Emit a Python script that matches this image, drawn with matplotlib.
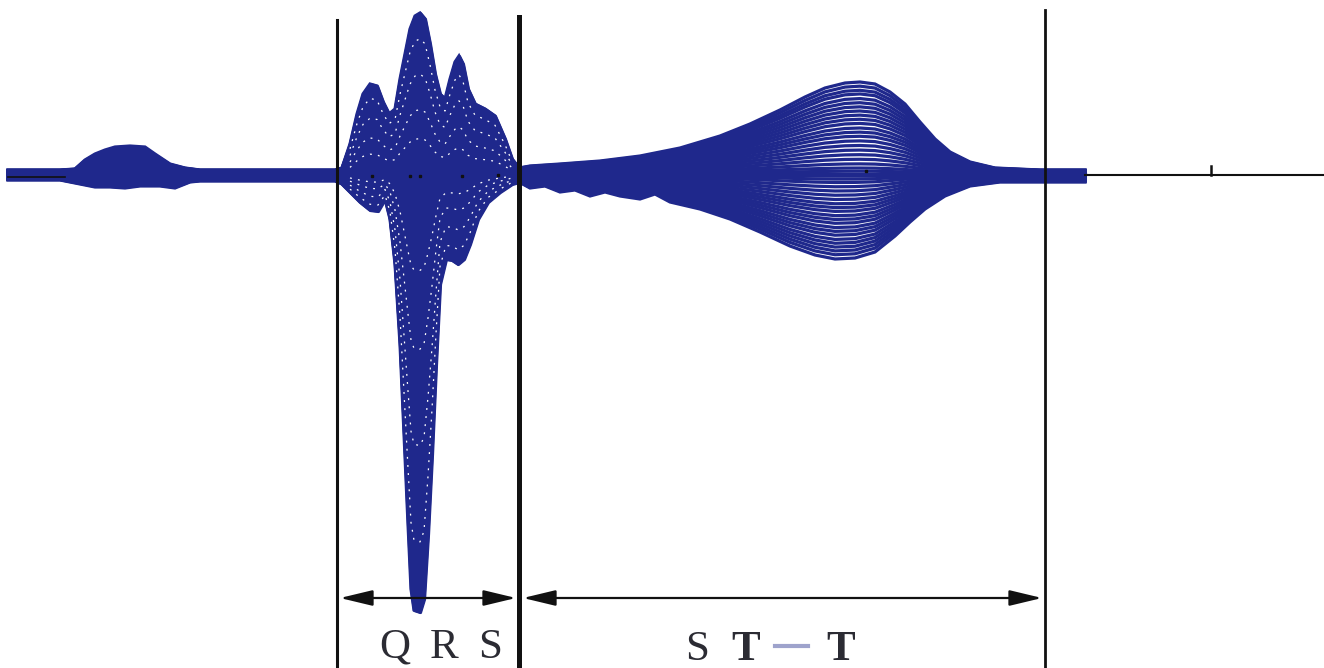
import matplotlib.pyplot as plt

# superimposed beats, time in samples, amplitude in display units (baseline = 0)
NAVY = '#1f288c'

# upward-deflecting beat template
up_t = [8, 60, 75, 85, 95, 105, 115, 130, 145, 155, 170, 185, 200, 335,
        342, 350, 357, 363, 370, 377, 383, 389, 395, 400, 405, 410, 415, 420,
        425, 430, 435, 440, 445, 450, 455, 459, 463, 468, 475, 485, 495, 505,
        512, 519, 530, 560, 600, 640, 680, 720, 750, 780, 805, 825, 845, 860,
        875, 890, 905, 920, 935, 950, 970, 995, 1040, 1085]
up_v = [4, 4, 5, 14, 20, 24, 27, 28, 27, 20, 10, 6, 4, 4,
        6, 30, 60, 80, 90, 88, 72, 60, 65, 95, 120, 145, 158, 161,
        155, 130, 100, 80, 75, 95, 112, 118, 110, 85, 70, 65, 58, 35,
        15, 6, 8, 10, 13, 18, 26, 38, 50, 64, 77, 86, 91, 92,
        90, 82, 70, 52, 35, 22, 12, 6, 4, 4]

# downward-deflecting beat template
dn_t = [8, 60, 80, 95, 110, 125, 140, 160, 175, 190, 200, 335,
        342, 350, 360, 370, 378, 385, 390, 395, 400, 404, 408, 411, 414, 420,
        424, 428, 432, 436, 440, 446, 452, 458, 464, 470, 478, 488, 500, 512,
        519, 530, 545, 560, 575, 590, 605, 620, 640, 655, 670, 700, 730, 760,
        790, 815, 835, 855, 875, 895, 910, 925, 945, 970, 1000, 1085]
dn_v = [-6, -6, -10, -13, -13, -14, -12, -12, -14, -8, -7, -7,
        -10, -18, -28, -36, -37, -25, -45, -90, -170, -260, -350, -415, -436, -438,
        -425, -360, -280, -190, -110, -85, -86, -90, -85, -70, -45, -28, -18, -10,
        -8, -14, -12, -18, -16, -22, -18, -22, -25, -20, -28, -35, -45, -58,
        -72, -81, -85, -84, -78, -62, -48, -35, -22, -12, -8, -8]

# relative beat amplitudes
up_gain = [1.0, 0.955, 0.91, 0.87, 0.82, 0.775, 0.73, 0.685, 0.64, 0.595, 0.55,
           0.5, 0.455, 0.41, 0.36, 0.31, 0.26, 0.21, 0.16, 0.11, 0.065, 0.03, 0.0]
dn_gain = [1.0, 0.95, 0.905, 0.86, 0.815, 0.77, 0.72, 0.675, 0.63, 0.58, 0.535,
           0.49, 0.44, 0.395, 0.35, 0.3, 0.25, 0.2, 0.15, 0.1, 0.06, 0.025]
# inner QRS traces that leave gaps in the dense complex
qrs_gap_gain = [0.84, 0.62, 0.4, 0.22]

# fiducial marks on the baseline
fid_t = [372, 410, 420, 462, 498, 866]
fid_v = [-2, -2, -2, -2, -1, 3]

# interval boundaries
bounds = [337, 519, 1045]
bound_top = [154, 157, 164]
bound_lw = [2.2, 3.6, 2.0]
QRS_ON, QRS_OFF = 337, 519

fig = plt.figure(figsize=(13.24, 6.68), dpi=100)
ax = fig.add_axes([0, 0, 1, 1])
ax.set_xlim(0, 1324)
ax.set_ylim(-494, 174)
ax.axis('off')

for g in up_gain:
    ax.plot(up_t, [g * v for v in up_v], color=NAVY, lw=2.3,
            solid_joinstyle='miter')
for g in dn_gain:
    ax.plot(dn_t, [g * v for v in dn_v], color=NAVY, lw=2.3,
            solid_joinstyle='miter')

# the QRS traces overlap almost completely: draw it as a filled complex
for t, v in [(up_t, up_v), (dn_t, dn_v)]:
    seg = [(a, b) for a, b in zip(t, v) if QRS_ON <= a <= QRS_OFF]
    st = [a for a, _ in seg]
    sv = [b for _, b in seg]
    ax.fill_between(st, sv, 0, color=NAVY, lw=2.3, edgecolor=NAVY)
    for g in qrs_gap_gain:
        ax.plot(st[1:-1], [g * b for b in sv[1:-1]], color='white', lw=0.9,
                ls=(0, (1.5, 5)))

# trailing baseline
ax.plot([1085, 1324], [-1, -1], color='#111111', lw=1.5)
ax.plot([1211, 1211], [-1, 8], color='#111111', lw=1.8)
ax.plot([8, 65], [-3, -3], color='#111111', lw=1.2)
ax.plot(fid_t, fid_v, ls='none', marker='s', ms=2, color='#111111')

for x, top, lw in zip(bounds, bound_top, bound_lw):
    ax.plot([x, x], [top, -494], color='#111111', lw=lw)

arrow = dict(arrowstyle='<|-|>,head_length=1.0,head_width=0.24',
             color='#111111', lw=1.6, mutation_scale=20, shrinkA=0, shrinkB=0)
ax.annotate('', xy=(340, -424), xytext=(516, -424), arrowprops=arrow)
ax.annotate('', xy=(523, -424), xytext=(1042, -424), arrowprops=arrow)

font = dict(family='Liberation Serif', fontsize=31, color='#2b2b33',
            ha='center', va='baseline')
for ch, x in zip(['Q', 'R', 'S'], [395, 444, 490]):
    ax.text(x, -484, ch, **font)
ax.text(697, -486, 'S', **font)
ax.text(746, -486, 'T', fontweight='bold', **font)
ax.text(841, -486, 'T', fontweight='bold', **font)
ax.plot([775, 808], [-472, -472], color='#9ea3cc', lw=3)

fig.savefig('out.png', dpi=100)
